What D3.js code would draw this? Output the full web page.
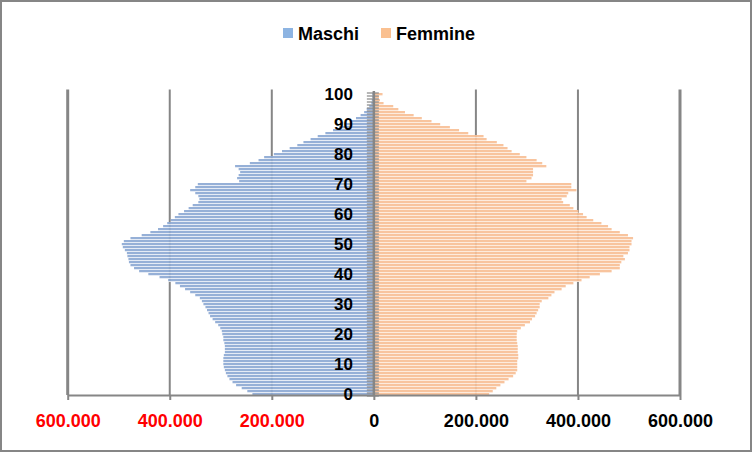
<!DOCTYPE html>
<html>
<head>
<meta charset="utf-8">
<script src="https://cdn.jsdelivr.net/npm/d3@7"></script>
<style>
  html, body { margin: 0; padding: 0; background: #fff; }
  svg { display: block; }
  text { font-family: "Liberation Sans", Arial, sans-serif; font-weight: bold; }
</style>
</head>
<body>
<svg id="chart" width="752" height="452"></svg>
<script>
// ---- data (thousands of people, by age 0..100) ----
const ages = d3.range(0, 101);
const seriesNames = ["Maschi", "Femmine"];
const maschi = [
  238,248,259,270,277,283,287,290,292,294,
  295,295,295,294,292,292,292,293,295,295,
  297,298,301,305,311,316,321,324,327,330,
  334,337,341,350,360,370,380,389,403,420,
  442,460,470,477,480,481,483,484,488,492,
  494,490,477,455,438,423,413,405,398,390,
  383,372,363,355,344,342,344,350,360,350,
  345,264,268,265,262,265,272,243,226,215,
  196,180,165,150,138,124,110,95,80,68,
  57,45,35,26,19,14,9,5,4,3,3
];
const femmine = [
  226,233,240,248,256,264,273,278,281,281,
  281,281,283,283,282,282,282,281,280,280,
  280,281,288,296,306,310,316,319,322,325,
  325,329,342,348,354,368,376,391,407,423,
  443,466,482,482,485,492,489,498,501,501,
  505,505,508,498,482,466,459,446,430,417,
  410,401,391,384,371,368,378,381,397,387,
  387,299,309,312,312,312,338,330,319,299,
  286,270,262,254,241,221,215,185,167,149,
  130,113,94,78,61,48,38,19,12,10,17
];
const xTicks = [-600, -400, -200, 0, 200, 400, 600];
const ageLabels = [0, 10, 20, 30, 40, 50, 60, 70, 80, 90, 100];

// ---- drawing ----
const svg = d3.select("#chart");
const W = 752, H = 452;
const grid = "#868686";

svg.append("rect").attr("x", 1).attr("y", 1).attr("width", W - 2).attr("height", H - 2)
  .attr("fill", "#fff").attr("stroke", grid).attr("stroke-width", 2);

const x = d3.scaleLinear().domain([-600, 600]).range([67.7, 680]);
const y = d3.scaleBand().domain(ages).range([396, 93]).paddingInner(0).paddingOuter(0);

const defs = svg.append("defs");
function grad(id, dark, light) {
  const g = defs.append("linearGradient").attr("id", id)
    .attr("x1", 0).attr("y1", 0).attr("x2", 0).attr("y2", 1);
  g.append("stop").attr("offset", "0%").attr("stop-color", dark);
  g.append("stop").attr("offset", "60%").attr("stop-color", dark);
  g.append("stop").attr("offset", "60%").attr("stop-color", light);
  g.append("stop").attr("offset", "100%").attr("stop-color", light);
}
grad("gM", "#8eaad4", "#e3eaf5");
grad("gF", "#f8bf96", "#fdeadb");

// gridlines
const gridG = svg.append("g");
gridG.selectAll("line").data(xTicks.filter(d => d !== 0)).join("line")
  .attr("x1", d => x(d)).attr("x2", d => x(d))
  .attr("y1", 89.5).attr("y2", 395)
  .attr("stroke", grid)
  .attr("stroke-width", d => Math.abs(d) === 600 ? 3 : 2);

// bars
const barsG = svg.append("g").attr("opacity", 0.92);
barsG.selectAll("rect.m").data(ages).join("rect").attr("class", "m")
  .attr("x", a => x(-maschi[a]))
  .attr("width", a => x(0) - x(-maschi[a]))
  .attr("y", a => y(a))
  .attr("height", y.bandwidth())
  .attr("fill", "url(#gM)");
barsG.selectAll("rect.f").data(ages).join("rect").attr("class", "f")
  .attr("x", x(0))
  .attr("width", a => x(femmine[a]) - x(0))
  .attr("y", a => y(a))
  .attr("height", y.bandwidth())
  .attr("fill", "url(#gF)");

// center category axis with crossing tick marks
const cx = x(0);
const tickYs = ages.map(a => y(a)).concat([396]);
svg.append("g").selectAll("line").data(tickYs).join("line")
  .attr("x1", cx - 7).attr("x2", cx + 5)
  .attr("y1", d => d).attr("y2", d => d)
  .attr("stroke", grid).attr("stroke-width", 1.3).attr("opacity", 0.9);
svg.append("line").attr("x1", cx).attr("x2", cx).attr("y1", 91).attr("y2", 396)
  .attr("stroke", grid).attr("stroke-width", 2.5);

// x axis
const fmt = v => v === 0 ? "0" : d3.format(",")(Math.abs(v) * 1000).replace(/,/g, ".");
const xAxis = d3.axisBottom(x).tickValues(xTicks).tickFormat(fmt).tickSizeInner(5).tickSizeOuter(0).tickPadding(14);
const xg = svg.append("g").attr("transform", "translate(0,395)").call(xAxis);
xg.select(".domain").attr("stroke", grid).attr("stroke-width", 2);
xg.selectAll(".tick line").attr("stroke", grid).attr("stroke-width", 2);
xg.selectAll(".tick text")
  .style("font-family", "'Liberation Sans', Arial, sans-serif")
  .style("font-weight", "bold")
  .style("font-size", "18px")
  .attr("fill", d => d < 0 ? "#ff0000" : "#000");

// y age labels
const yAxis = d3.axisLeft(y).tickValues(ageLabels).tickSize(0).tickPadding(21);
const yg = svg.append("g").attr("transform", `translate(${cx},0)`).call(yAxis);
yg.select(".domain").remove();
yg.selectAll(".tick text")
  .style("font-family", "'Liberation Sans', Arial, sans-serif")
  .style("font-weight", "bold")
  .style("font-size", "17px")
  .attr("fill", "#000");

// legend
const legend = [
  { name: seriesNames[0], color: "#8db4e2", rx: 283, tx: 298 },
  { name: seriesNames[1], color: "#fac090", rx: 381, tx: 396 }
];
const lg = svg.append("g");
legend.forEach(l => {
  lg.append("rect").attr("x", l.rx).attr("y", 28).attr("width", 10).attr("height", 10).attr("fill", l.color);
  lg.append("text").attr("x", l.tx).attr("y", 39.5).attr("font-size", 18).attr("fill", "#000").text(l.name);
});
</script>
</body>
</html>
